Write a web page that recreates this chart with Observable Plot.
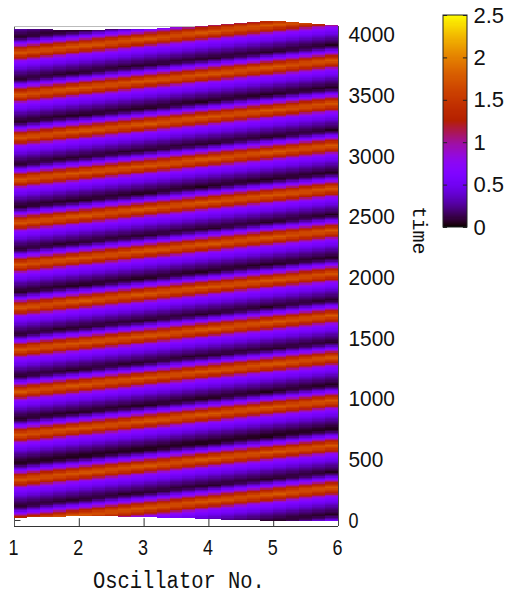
<!DOCTYPE html>
<html><head><meta charset="utf-8">
<style>html,body{margin:0;padding:0;background:#fff}#c{position:relative;width:507px;height:595px}#c svg{position:absolute;left:0;top:0;background:transparent}</style>
<script src="https://cdn.jsdelivr.net/npm/d3@7"></script>
<script src="https://cdn.jsdelivr.net/npm/@observablehq/plot@0.6"></script>
</head><body><div id="c"></div>
<script>
const oscillators = [1, 2, 3, 4, 5, 6];
// time of each crest, read per oscillator
const crests1 = [-25, 322, 692, 1047, 1393, 1739, 2094, 2440, 2795, 3141, 3495, 3842];
const crests2 = [33, 380, 750, 1105, 1451, 1797, 2152, 2498, 2853, 3199, 3553, 3900];
const crests3 = [91, 438, 808, 1163, 1509, 1855, 2210, 2556, 2911, 3257, 3611, 3958];
const crests4 = [149, 496, 866, 1221, 1567, 1913, 2268, 2614, 2969, 3315, 3669, 4016];
const crests5 = [207, 554, 924, 1279, 1625, 1971, 2326, 2672, 3027, 3373, 3727, 4074];
const crests6 = [265, 612, 982, 1337, 1683, 2029, 2384, 2730, 3085, 3431, 3785, 4132];
// shape of a wave around its crest
const waveOffsets = [-222, -198, -173, -148, -124, -99, -82, -66, -49, -25, 0, 25, 41, 58, 74, 91, 107, 124, 129];
const waveValues = [0.04, 0.12, 0.2, 0.3, 0.44, 0.56, 0.64, 0.8, 1.18, 1.45, 1.8, 1.45, 1.25, 0.95, 0.65, 0.42, 0.22, 0.08, 0.03];
// first and last recorded time per oscillator
const firstTimes = [16, 33, 25, 8, -8, -8];
const lastTimes = [4048, 4040, 4048, 4072, 4114, 4072];
const xTicks = [1, 2, 3, 4, 5, 6];
const yTicks = [0, 500, 1000, 1500, 2000, 2500, 3000, 3500, 4000];
const colorTicks = [0, 0.5, 1, 1.5, 2, 2.5];
const xTitle = "Oscillator No.";
const yTitle = "time";

const crests = [crests1, crests2, crests3, crests4, crests5, crests6];
const palette = x => {
  const r = Math.sqrt(x), g = x * x * x, b = Math.max(0, Math.sin(2 * Math.PI * x));
  return `rgb(${Math.round(r * 255)},${Math.round(g * 255)},${Math.round(b * 255)})`;
};
const colorOpts = {type: "linear", domain: [0, 2.5], interpolate: palette};
const waveAt = d3.scaleLinear().domain(waveOffsets).range(waveValues).clamp(true);
function valueAt(osc, t) {
  const c = crests[osc];
  let best = Infinity, bestD = null;
  for (const p of [...c, c[0] - 351.5, c[c.length - 1] + 351.5]) {
    const d = t - p;
    if (d >= -222 && d < 129.5 && Math.abs(d) < best) { best = Math.abs(d); bestD = d; }
  }
  return bestD === null ? waveValues[0] : waveAt(bestD);
}
const sub = 5, dt = 10, shear = 34;
const cells = [];
for (let i = 0; i < 5; i++) for (let s = 0; s < sub; s++) {
  const f0 = s / sub, f1 = (s + 1) / sub, fm = (f0 + f1) / 2;
  const x1 = oscillators[i] + f0, x2 = oscillators[i] + f1;
  const lo = firstTimes[i] * (1 - fm) + firstTimes[i + 1] * fm;
  const hi = lastTimes[i] * (1 - fm) + lastTimes[i + 1] * fm;
  for (let t = Math.floor(lo / dt) * dt; t < hi; t += dt) {
    if (t + dt <= lo) continue;
    const v = valueAt(i, t - fm * shear) * (1 - fm) + valueAt(i + 1, t + (1 - fm) * shear) * fm;
    cells.push({x1, x2, y1: Math.max(t, lo), y2: Math.min(t + dt, hi), v});
  }
}
const gothic = "Liberation Sans";
const main = Plot.plot({
  width: 507, height: 595, marginLeft: 14, marginRight: 169, marginTop: 26, marginBottom: 69,
  x: {domain: [1, 6]}, y: {domain: [-49.5, 4072]}, color: colorOpts,
  marks: [
    Plot.ruleX(xTicks.slice(1, 5), {y1: -49.5, y2: 15, stroke: "#333", strokeWidth: 1}),
    Plot.ruleY([0], {x1: 1, x2: 1.1, stroke: "#333", strokeWidth: 1}),
    Plot.ruleX([1], {y1: -49.5, y2: 4072, stroke: "#555"}),
    Plot.ruleY([4072], {x1: 1, x2: 6, stroke: "#bbb"}),
    Plot.rect(cells, {x1: "x1", x2: "x2", y1: "y1", y2: "y2", fill: "v", shapeRendering: "crispEdges"}),
    Plot.ruleY([-49.5], {x1: 1, x2: 6, stroke: "#333", strokeWidth: 1.2}),
    Plot.ruleX([6], {y1: -49.5, y2: 4072, stroke: "#444", strokeWidth: 1}),
    Plot.axisX(xTicks, {anchor: "bottom", tickSize: 0, tickPadding: 13, fontSize: 22, fontFamily: gothic, fill: "#111", label: null, tickFormat: String, dx: -1}),
    Plot.axisY(yTicks, {anchor: "right", tickSize: 0, tickPadding: 10, fontSize: 22, fontFamily: gothic, fill: "#111", label: null, tickFormat: String}),
    Plot.text([xTitle], {x: () => 3.46, y: () => -49.5, dy: 54, dx: 5, fontSize: 23, fontFamily: "Liberation Mono", fill: "#111"}),
    Plot.text([yTitle], {x: () => 6, y: () => 2390, dx: 81, rotate: 90, fontSize: 21, fontFamily: "Liberation Mono", fill: "#111"})
  ]
});
d3.select(main).selectAll("text").each(function () {
  const s = this.textContent;
  let w = null;
  if (s === xTitle) w = 172; else if (s === yTitle) w = 48; else if (/^\d+$/.test(s)) w = s.length * (s.length === 1 ? 10 : 11.6);
  if (w) d3.select(this).attr("textLength", w).attr("lengthAdjust", "spacingAndGlyphs");
});
const levels = d3.range(0, 2.5, 0.0125);
const bar = Plot.plot({
  width: 507, height: 240, marginLeft: 443, marginRight: 40, marginTop: 15, marginBottom: 13,
  x: {domain: [0, 1], axis: null}, y: {domain: [0, 2.5]}, color: colorOpts,
  marks: [
    Plot.rect(levels, {x1: 0, x2: 1, y1: d => d, y2: d => d + 0.0125, fill: d => d, shapeRendering: "crispEdges"}),
    Plot.ruleY(colorTicks, {x1: 0, x2: 0.17, stroke: "#222"}),
    Plot.ruleY(colorTicks, {x1: 0.83, x2: 1, stroke: "#222"}),
    Plot.rect([0], {x1: 0, x2: 1, y1: 0, y2: 2.5, stroke: "#222", fill: "none"}),
    Plot.axisY(colorTicks, {anchor: "right", tickSize: 0, tickPadding: 6, fontSize: 22, fontFamily: "Liberation Sans", fill: "#111", label: null, tickFormat: String})
  ]
});
document.getElementById("c").append(main, bar);
</script></body></html>
